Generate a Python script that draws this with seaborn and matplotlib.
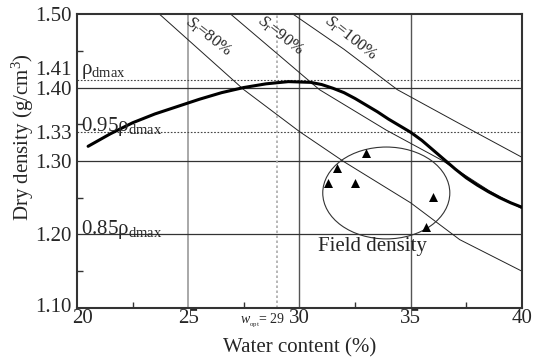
import numpy as np
import pandas as pd
import matplotlib
matplotlib.use("Agg")
import matplotlib.pyplot as plt
from matplotlib.patches import Ellipse
from matplotlib.transforms import offset_copy, ScaledTranslation
import seaborn as sns

# Compaction curve (water content %, dry density g/cm3)
compaction_w = [20.5, 21.5, 22.5, 23.5, 24.5, 25.5, 26.5, 27.5, 28.5, 29.5,
                30.5, 31.0, 31.5, 32.0, 32.5, 33.0, 33.5, 34.0, 35.0, 35.5,
                36.0, 36.5, 37.0, 37.5, 38.0, 38.5, 39.0, 39.5, 40.0]
compaction_rho = [1.320, 1.337, 1.352, 1.364, 1.374, 1.384, 1.393, 1.400,
                  1.405, 1.408, 1.407, 1.404, 1.399, 1.393, 1.385, 1.376,
                  1.367, 1.357, 1.339, 1.328, 1.315, 1.302, 1.289, 1.277,
                  1.267, 1.258, 1.250, 1.243, 1.237]

# Saturation lines
sr80_w = [23.7, 27.5, 30.0, 32.0, 35.0, 37.2, 40.0]
sr80_rho = [1.500, 1.397, 1.340, 1.299, 1.243, 1.193, 1.150]
sr90_w = [26.9, 30.9, 33.9, 36.4, 38.5, 40.0]
sr90_rho = [1.500, 1.397, 1.342, 1.301, 1.260, 1.235]
sr100_w = [29.7, 32.0, 34.4, 37.0, 40.0]
sr100_rho = [1.500, 1.452, 1.397, 1.354, 1.305]

# Field density measurements
field_w = [32.99, 31.69, 31.28, 32.49, 36.0, 35.69]
field_rho = [1.311, 1.290, 1.270, 1.270, 1.251, 1.210]

rho_dmax = 1.41
w_opt = 29
rho_95 = 0.95 * rho_dmax
rho_85 = 0.85 * rho_dmax

x_ticks = [20, 25, 30, 35, 40]
y_ticks = [1.10, 1.20, 1.30, rho_95, 1.40, 1.50]
y_tick_labels = ["1.10", "1.20", "1.30", "1.33", "1.40", "1.50"]

sns.set_style("white")
plt.rcParams["font.family"] = ["Liberation Serif", "DejaVu Serif"]
plt.rcParams["mathtext.fontset"] = "custom"
plt.rcParams["mathtext.rm"] = "Liberation Serif"
plt.rcParams["mathtext.it"] = "Liberation Serif:italic"
plt.rcParams["mathtext.bf"] = "Liberation Serif:bold"

fig = plt.figure(figsize=(5.44, 3.62), dpi=100)
ax = fig.add_axes([0.1415, 0.1492, 0.8181, 0.8121])

ax.set_xlim(20, 40)
ax.set_ylim(1.10, 1.50)

# reference grid
ax.axvline(25, color="#9a9a9a", lw=1.2, zorder=1)
for xv in (30, 35):
    ax.axvline(xv, color="#555555", lw=1.0, zorder=1)
for yv in (1.20, 1.30, 1.40):
    ax.axhline(yv, color="#333333", lw=0.9, zorder=1)
ax.axhline(rho_dmax, color="#444444", lw=0.8, ls=(0, (1.5, 1.5)), zorder=1)
ax.axhline(rho_95, color="#444444", lw=0.8, ls=(0, (1.5, 1.5)), zorder=1)
ax.axvline(w_opt, color="#aaaaaa", lw=1.2, ls=(0, (1.5, 1.5)), zorder=1)

# saturation lines
for ws, rs in ((sr80_w, sr80_rho), (sr90_w, sr90_rho), (sr100_w, sr100_rho)):
    sns.lineplot(x=ws, y=rs, ax=ax, color="#222222", lw=0.7, estimator=None,
                 sort=False, zorder=2)

# compaction curve
sns.lineplot(x=compaction_w, y=compaction_rho, ax=ax, color="black", lw=2.2,
             estimator=None, zorder=3)

# field density points and enclosing ellipse
sns.scatterplot(x=field_w, y=field_rho, ax=ax, marker="^", color="black",
                s=42, edgecolor="black", linewidth=0, zorder=4)
ax.add_patch(Ellipse((33.9, 1.2565), width=5.71, height=0.125, fill=False,
                     lw=0.8, edgecolor="#333333", zorder=3))
ax.text(33.3, 1.184, "Field density", fontsize=15, ha="center", va="center",
        zorder=5)

# saturation labels
ax.text(25.9, 1.469, r"$S_{\mathrm{r}}$=80%", fontsize=12, rotation=-38,
        ha="center", va="center")
ax.text(29.15, 1.471, r"$S_{\mathrm{r}}$=90%", fontsize=12, rotation=-38,
        ha="center", va="center")
ax.text(32.3, 1.467, r"$S_{\mathrm{r}}$=100%", fontsize=12, rotation=-38,
        ha="center", va="center")

# density level labels
ax.text(20.2, 1.418, r"$\mathrm{\rho}_{\mathrm{dmax}}$", fontsize=15,
        ha="left", va="baseline")
ax.text(20.2, rho_95 + 0.001, r"0.95$\mathrm{\rho}_{\mathrm{dmax}}$",
        fontsize=15, ha="left", va="baseline")
ax.text(20.2, rho_85 + 0.002, r"0.85$\mathrm{\rho}_{\mathrm{dmax}}$",
        fontsize=15, ha="left", va="baseline")

# ticks
ax.set_xticks(x_ticks)
ax.set_xticklabels([str(v) for v in x_ticks], fontsize=15)
ax.set_yticks(y_ticks)
ax.set_yticklabels(y_tick_labels, fontsize=15)
ax.set_xticks([22.5, 27.5, 32.5, 37.5], minor=True)
ax.set_yticks([1.15, 1.25, 1.35, 1.45], minor=True)
ax.tick_params(axis="y", which="major", length=0, pad=4)
ax.tick_params(axis="x", which="major", length=0, pad=1)
ax.tick_params(axis="both", which="minor", direction="in", length=4,
               width=1.0, color="#333333")
ax.tick_params(axis="x", which="minor", bottom=True)
ax.tick_params(axis="y", which="minor", left=True)

# nudge the corner labels apart
x_first = ax.get_xticklabels()[0]
x_first.set_transform(x_first.get_transform()
                      + ScaledTranslation(4 / 72, 0, fig.dpi_scale_trans))
y_first = ax.get_yticklabels()[0]
y_first.set_transform(y_first.get_transform()
                      + ScaledTranslation(0, 2.5 / 72, fig.dpi_scale_trans))

# extra y label for the maximum density level
lbl_tr = offset_copy(ax.get_yaxis_transform(), fig=fig, x=-4, y=7,
                     units="points")
ax.text(0, rho_dmax, "1.41", transform=lbl_tr, fontsize=15, ha="right",
        va="center")

# optimum water content label
opt_tr = offset_copy(ax.get_xaxis_transform(), fig=fig, x=5.5, y=-3,
                     units="points")
ax.text(w_opt, 0, r"$w_{_{\mathrm{opt}}}$= 29", transform=opt_tr,
        fontsize=10, ha="right", va="top")

ax.set_xlabel("Water content (%)", fontsize=15, labelpad=7)
ax.set_ylabel("Dry density (g/cm$^{3}$)", fontsize=15)
ax.yaxis.set_label_coords(-0.092, 0.58)

for sp in ax.spines.values():
    sp.set_color("#333333")
    sp.set_linewidth(1.5)
    sp.set_visible(True)

fig.savefig("out.png", dpi=100)
